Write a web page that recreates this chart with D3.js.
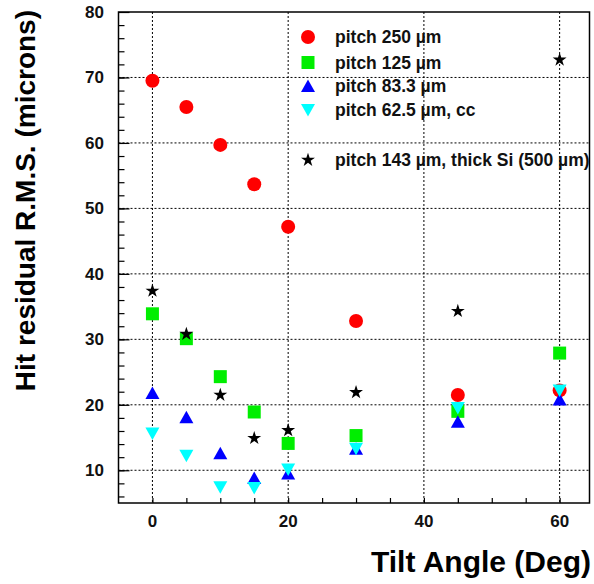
<!DOCTYPE html>
<html><head><meta charset="utf-8">
<script src="https://cdn.jsdelivr.net/npm/d3@7"></script>
<style>
html,body{margin:0;padding:0;background:#fff;}
svg{display:block;font-family:"Liberation Sans",Arial,Helvetica,sans-serif;font-weight:bold;}
</style></head>
<body>
<svg id="c" width="594" height="584"></svg>
<script>
const angles = [0, 5, 10, 15, 20, 30, 45, 60];
const pitch250 = [69.5, 65.5, 59.7, 53.7, 47.2, 32.8, 21.5, 22.2];
const pitch125 = [33.9, 30.1, 24.3, 18.9, 14.1, 15.3, 19.0, 27.9];
const pitch83 = [21.8, 18.1, 12.6, 8.8, 9.5, 13.3, 17.4, 20.8];
const pitch62 = [15.6, 12.2, 7.4, 7.3, 10.1, 13.3, 19.5, 22.2];
const pitch143 = [37.4, 30.8, 21.5, 14.9, 16.1, 21.9, 34.3, 72.7];
const seriesNames = ["pitch 250 \u00b5m", "pitch 125 \u00b5m", "pitch 83.3 \u00b5m", "pitch 62.5 \u00b5m, cc", "pitch 143 \u00b5m, thick Si (500 \u00b5m)"];
const xTickLabels = [0, 20, 40, 60];
const yTickLabels = [10, 20, 30, 40, 50, 60, 70, 80];

const svg = d3.select("#c");
const L = 118.5, R = 589.5, T = 12, B = 503;
const x = d3.scaleLinear().domain([-5, 64.4]).range([L, R]);
const y = d3.scaleLinear().domain([5, 80]).range([B, T]);

// grid
const grid = svg.append("g").attr("stroke", "#000").attr("stroke-width", 1).attr("stroke-dasharray", "2,2");
xTickLabels.forEach(v => grid.append("line").attr("x1", x(v)).attr("x2", x(v)).attr("y1", T).attr("y2", B));
yTickLabels.filter(v => v < 80).forEach(v => grid.append("line").attr("x1", L).attr("x2", R).attr("y1", y(v)).attr("y2", y(v)));

// axes with inward ticks
const xAxis = d3.axisBottom(x).tickValues(d3.range(0, 64, 5)).tickSize(-5).tickFormat("");
svg.append("g").attr("transform", `translate(0,${B})`).call(xAxis)
  .call(g => g.select(".domain").remove())
  .call(g => g.selectAll("line").attr("stroke", "#000").attr("stroke-width", 1.2));
const yAxis = d3.axisLeft(y).tickValues(d3.range(6, 80, 2)).tickSize(-6).tickFormat("");
svg.append("g").attr("transform", `translate(${L},0)`).call(yAxis)
  .call(g => g.select(".domain").remove())
  .call(g => g.selectAll("line").attr("stroke", "#000").attr("stroke-width", 1.2));
const yMaj = d3.axisLeft(y).tickValues(yTickLabels).tickSize(-11).tickFormat("");
svg.append("g").attr("transform", `translate(${L},0)`).call(yMaj)
  .call(g => g.select(".domain").remove())
  .call(g => g.selectAll("line").attr("stroke", "#000").attr("stroke-width", 1.2));

// frame
svg.append("rect").attr("x", L).attr("y", T).attr("width", R - L).attr("height", B - T)
  .attr("fill", "none").attr("stroke", "#000").attr("stroke-width", 1.5);

// tick labels
svg.append("g").selectAll("text").data(xTickLabels).join("text")
  .attr("x", d => x(d)).attr("y", 527).attr("text-anchor", "middle")
  .attr("font-size", 17).attr("fill", "#111").text(d => d);
svg.append("g").selectAll("text").data(yTickLabels).join("text")
  .attr("x", 104).attr("y", d => y(d) + 6).attr("text-anchor", "end")
  .attr("font-size", 17).attr("fill", "#111").text(d => d);

// axis titles
svg.append("text").attr("x", 591).attr("y", 572).attr("text-anchor", "end")
  .attr("font-size", 30).attr("fill", "#000").text("Tilt Angle (Deg)");
svg.append("text").attr("transform", "translate(35,10) rotate(-90)").attr("text-anchor", "end")
  .attr("font-size", 28).attr("fill", "#000").text("Hit residual R.M.S. (microns)");

// markers
const shapes = {
  circle: "M7,0A7,7 0 1,1 -7,0A7,7 0 1,1 7,0Z",
  square: "M-6.5,-6.5H6.5V6.5H-6.5Z",
  up: "M-7,6L7,6L0,-6.5Z",
  down: "M-7,-6L7,-6L0,6.5Z",
  star: d3.symbol(d3.symbolStar, 60)()
};
const series = [
  {vals: pitch250, shape: "circle", color: "#ff0000"},
  {vals: pitch125, shape: "square", color: "#00ee00"},
  {vals: pitch83, shape: "up", color: "#0000ff"},
  {vals: pitch62, shape: "down", color: "#00ffff"},
  {vals: pitch143, shape: "star", color: "#000000"}
];
series.forEach(s => {
  svg.append("g").selectAll("path").data(angles.map((a, i) => [a, s.vals[i]])).join("path")
    .attr("d", shapes[s.shape]).attr("fill", s.color)
    .attr("transform", d => `translate(${x(d[0])},${y(d[1])})`);
});

// legend
const legY = [37, 62.5, 86, 110, 160];
series.forEach((s, i) => {
  svg.append("path").attr("d", shapes[s.shape]).attr("fill", s.color)
    .attr("transform", `translate(308,${legY[i]})`);
  svg.append("text").attr("x", 335).attr("y", legY[i] + 6).attr("font-size", 17.5)
    .attr("fill", "#111").text(seriesNames[i]);
});
</script>
</body></html>
